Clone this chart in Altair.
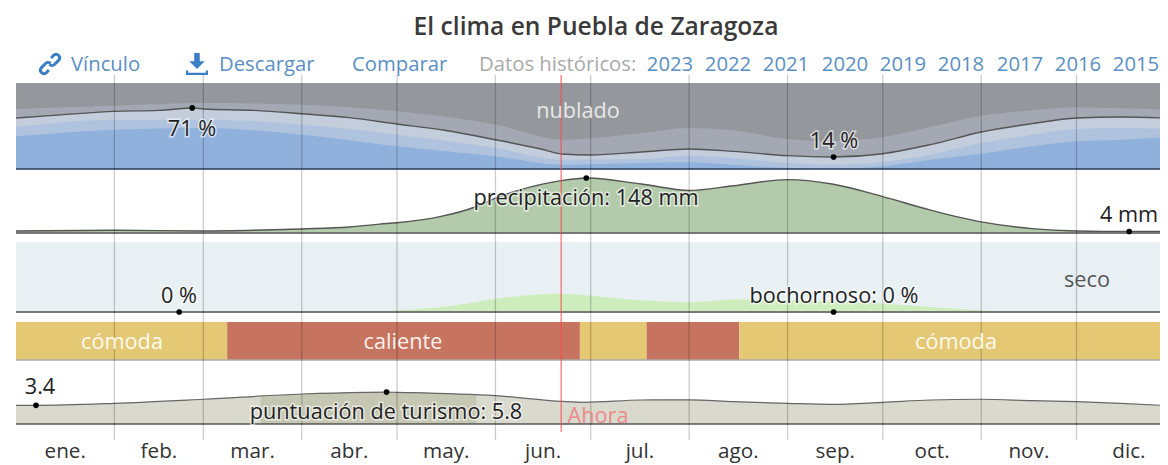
import altair as alt
import pandas as pd

FONT = "Open Sans"
ANN = 21.7
HDR = 20.3
months = ["ene.", "feb.", "mar.", "abr.", "may.", "jun.", "jul.", "ago.", "sep.", "oct.", "nov.", "dic."]
month_mid = [15.5, 45, 74.5, 105, 135.5, 166, 196.5, 227.5, 258, 288.5, 319, 350.5]
month_edges = [31, 59, 90, 120, 151, 181, 212, 243, 273, 304, 334]
years = ["2023", "2022", "2021", "2020", "2019", "2018", "2017", "2016", "2015"]
today = [171.7]

cloud_days = [0, 15, 31, 45, 56, 59, 75, 90, 105, 120, 135, 151, 165, 172, 181, 197, 212, 226, 243, 257, 273, 288, 304, 320, 334, 348, 363]
cloud_line = [59.3, 63.2, 67, 68.2, 71, 69.8, 68.2, 64.3, 59.7, 52.3, 45, 34, 23.6, 17.4, 16.3, 19.8, 23.3, 20.5, 15.5, 14, 17.8, 28.3, 43, 52.7, 59.3, 60.5, 59]
band_days = [0, 31, 59, 90, 120, 151, 172, 197, 212, 226, 243, 257, 273, 288, 304, 320, 334, 348, 363]
cloud_upper = [69.8, 73.6, 76.7, 74.8, 67.1, 51.6, 34.1, 41.9, 47.7, 45, 34.9, 32.2, 37.2, 48.8, 62, 68.2, 71.7, 70.5, 69]
cloud_light = [48.8, 57.4, 57.4, 51.6, 39.9, 24.4, 10.9, 11.6, 15.5, 12.8, 7, 5, 8.1, 16.7, 30.2, 39.9, 46.5, 47.7, 46.9]
cloud_clear = [38, 45.7, 47.7, 39.9, 26.4, 14.7, 5, 7, 7.8, 5, 1.2, 0.4, 3.1, 10.9, 17.8, 26.4, 32.2, 34.1, 37.2]

rain_days = [0, 31, 59, 75, 90, 105, 114.6, 120, 133.5, 144.6, 151, 158.7, 171.7, 180, 197, 212, 226, 243, 257, 273, 288, 304, 320, 334, 350, 363]
rain_mm = [5.4, 7.3, 5.4, 7.3, 10.9, 16, 24, 27.7, 44, 70, 94, 116, 141, 148, 131.7, 114.4, 127.1, 143.5, 131.7, 98, 61.7, 30, 11.8, 5.4, 4, 4.5]

muggy_days = [112, 120, 137, 151, 172, 179, 197, 212, 226, 243, 257, 273, 288, 304, 312]
muggy_pct = [0, 2.4, 8.6, 19, 26, 24, 16.7, 14, 18, 17, 15, 12, 7, 2.4, 0]

temp_start = [0, 66.5, 177.6, 198.6, 227.8]
temp_end = [66.5, 177.6, 198.6, 227.8, 365]
temp_kind = ["cómoda", "caliente", "cómoda", "caliente", "cómoda"]

tour_days = [0, 6.3, 31, 59, 90, 110, 116.7, 120, 151, 172, 179, 197, 212, 226, 243, 257, 273, 288, 304, 320, 334, 348, 363]
tour_score = [3.4, 3.4, 3.76, 4.5, 5.45, 5.76, 5.8, 5.76, 5.15, 4.1, 3.94, 4.36, 4.4, 4.06, 3.76, 3.58, 3.94, 4.36, 4.5, 4.24, 4.06, 3.76, 3.33]
tour_best_days = [77, 90, 110, 116.7, 120, 145]
tour_best = [5.1, 5.45, 5.76, 5.8, 5.76, 5.3]

x_scale = alt.Scale(domain=[-2.52, 360.3], range=[0, 1152], nice=False, zero=False)
X = alt.X("d:Q", scale=x_scale, axis=None)
X2 = alt.X2("e:Q")


def Y(domain, px):
    return alt.Y("v:Q", scale=alt.Scale(domain=domain, range=[px[0] - 8, px[1] - 8], nice=False, zero=False), axis=None)


CLOUD = Y([0, 100], (169, 83))
RAIN = Y([0, 148], (233, 178))
MUGGY = Y([0, 100], (312, 242))
TOUR = Y([0, 10], (424, 369))


def area(days, vals, yenc, color):
    df = pd.DataFrame({"d": days, "v": vals, "b": [0] * len(days)})
    return alt.Chart(df).mark_area(color=color, interpolate="monotone", clip=True, opacity=1).encode(x=X, y=yenc, y2=alt.Y2("b:Q"))


def line(days, vals, yenc, color="#555555", w=1.4):
    df = pd.DataFrame({"d": days, "v": vals})
    return alt.Chart(df).mark_line(color=color, strokeWidth=w, interpolate="monotone", clip=True).encode(x=X, y=yenc)


def base(yenc, color, w):
    df = pd.DataFrame({"d": [0], "e": [365], "v": [0]})
    return alt.Chart(df).mark_rule(color=color, strokeWidth=w, clip=True).encode(x=X, x2=X2, y=yenc)


def dot(d, v, yenc):
    df = pd.DataFrame({"d": [d], "v": [v]})
    return alt.Chart(df).mark_point(filled=True, color="#000000", size=32, opacity=1).encode(x=X, y=yenc)


def text(t, px, py, size=ANN, color="#333333", align="center", weight=400, halo=False, opacity=1):
    df = pd.DataFrame({"t": [t]})
    enc = dict(x=alt.value(px - 8), y=alt.value(py - 7), text="t:N")
    out = []
    if halo:
        out.append(alt.Chart(df).mark_text(font=FONT, fontSize=size, align=align, baseline="middle", fontWeight=weight,
                                           color="#ffffff", stroke="#ffffff", strokeWidth=3, opacity=0.6).encode(**enc))
    out.append(alt.Chart(df).mark_text(font=FONT, fontSize=size, align=align, baseline="middle", fontWeight=weight,
                                       color=color, opacity=opacity).encode(**enc))
    return out


layers = []
# cloud panel
bg = pd.DataFrame({"d": [0], "e": [365], "v": [100], "b": [0]})
layers.append(alt.Chart(bg).mark_rect(color="#94979c", clip=True).encode(x=X, x2=X2, y=CLOUD, y2=alt.Y2("b:Q")))
layers.append(area(band_days, cloud_upper, CLOUD, "#a4a8b2"))
layers.append(area(cloud_days, cloud_line, CLOUD, "#c3cddc"))
layers.append(area(band_days, cloud_light, CLOUD, "#afc3de"))
layers.append(area(band_days, cloud_clear, CLOUD, "#90b1dc"))
layers.append(line(cloud_days, cloud_line, CLOUD))
layers.append(base(CLOUD, "#2b3b5c", 1.5))
# rain panel
layers.append(area(rain_days, rain_mm, RAIN, "#b3cbaa"))
layers.append(line(rain_days, rain_mm, RAIN))
layers.append(base(RAIN, "#777777", 2))
# muggy panel
bg2 = pd.DataFrame({"d": [0], "e": [365], "v": [100], "b": [0]})
layers.append(alt.Chart(bg2).mark_rect(color="#e8f0f4", clip=True).encode(x=X, x2=X2, y=MUGGY, y2=alt.Y2("b:Q")))
layers.append(area(muggy_days, muggy_pct, MUGGY, "#cdedbd"))
layers.append(base(MUGGY, "#777777", 2))
# temperature bands
temp_df = pd.DataFrame({"d": temp_start, "e": temp_end, "k": temp_kind})
layers.append(alt.Chart(temp_df).mark_rect(clip=True).encode(
    x=X, x2=X2, y=alt.value(314), y2=alt.value(352),
    color=alt.Color("k:N", scale=alt.Scale(domain=["cómoda", "caliente"], range=["#e5c874", "#c6745f"]), legend=None)))
layers.append(alt.Chart(pd.DataFrame({"d": [0], "e": [365]})).mark_rule(color="#aaaaaa", strokeWidth=1.5, clip=True).encode(x=X, x2=X2, y=alt.value(352)))
# tourism panel
layers.append(area(tour_days, tour_score, TOUR, "#d9d9ce"))
layers.append(area(tour_best_days, tour_best, TOUR, "#c5c7b3"))
layers.append(line(tour_days, tour_score, TOUR, "#666666", 1.2))
layers.append(base(TOUR, "#555555", 1.5))
# month grid and month labels
layers.append(alt.Chart(pd.DataFrame({"d": month_edges})).mark_rule(color="#000000", opacity=0.2, strokeWidth=1.3).encode(
    x=X, y=alt.value(67), y2=alt.value(432)))
layers.append(alt.Chart(pd.DataFrame({"d": month_mid, "m": months})).mark_text(
    font=FONT, fontSize=ANN - 1, color="#333333", baseline="middle", align="center").encode(
    x=X, y=alt.value(444), text="m:N"))
layers.append(alt.Chart(pd.DataFrame({"d": today})).mark_rule(color="#f4494e", opacity=0.75, strokeWidth=1.3).encode(
    x=X, y=alt.value(67), y2=alt.value(424)))
# dots
layers += [dot(55.5, 71, CLOUD), dot(257.5, 14, CLOUD), dot(179.6, 148, RAIN), dot(350.6, 4, RAIN),
           dot(51.4, 0, MUGGY), dot(257.5, 0, MUGGY), dot(6.3, 3.4, TOUR), dot(116.7, 5.8, TOUR)]
# header
layers += text("El clima en Puebla de Zaragoza", 596, 27, size=24.6, weight=600, color="#3a3a3a")
LINK = "#5b8fc4"
layers += text("Vínculo", 71, 64, size=HDR, color=LINK, align="left")
layers += text("Descargar", 219, 64, size=HDR, color=LINK, align="left")
layers += text("Comparar", 352, 64, size=HDR, color=LINK, align="left")
layers += text("Datos históricos:", 479, 64, size=HDR, color="#aaaaaa", align="left")
for y_lab, px in zip(years, [670, 728, 786, 845, 903, 961, 1020, 1078, 1136]):
    layers += text(y_lab, px, 64, size=HDR, color=LINK)
icon_df = pd.DataFrame({"t": ["a"]})
layers.append(alt.Chart(icon_df).mark_point(
    shape="M0.1,-0.55 L0.35,-0.8 A0.32,0.32 0 0 1 0.8,-0.35 L0.4,0.05 A0.32,0.32 0 0 1 -0.05,0.05 M-0.1,0.55 L-0.35,0.8 A0.32,0.32 0 0 1 -0.8,0.35 L-0.4,-0.05 A0.32,0.32 0 0 1 0.05,-0.05",
    size=484, filled=False, stroke="#3a7fc4", strokeWidth=3, opacity=1).encode(x=alt.value(42), y=alt.value(56)))
layers.append(alt.Chart(icon_df).mark_point(
    shape="M-0.25,-1 H0.25 V-0.25 H0.7 L0,0.45 L-0.7,-0.25 H-0.25 Z M-1,0.6 H-0.8 V0.8 H0.8 V0.6 H1 V1 H-1 Z",
    size=484, filled=True, color="#3a7fc4", opacity=1).encode(x=alt.value(189), y=alt.value(56)))
# annotations
layers += text("nublado", 578, 110, color="#e8e8e8")
layers += text("71 %", 192, 128, halo=True, color="#222222")
layers += text("14 %", 834, 140, halo=True, color="#222222")
layers += text("precipitación: 148 mm", 586, 197, halo=True, color="#222222")
layers += text("4 mm", 1129, 214, halo=True, color="#222222")
layers += text("seco", 1087, 279, color="#555555")
layers += text("0 %", 179, 295, halo=True, color="#222222")
layers += text("bochornoso: 0 %", 834, 295, halo=True, color="#222222")
layers += text("cómoda", 122, 341, color="#fffbee")
layers += text("caliente", 403, 341, color="#fff1ec")
layers += text("cómoda", 956, 341, color="#fffbee")
layers += text("3.4", 40, 386, halo=True, color="#222222")
layers += text("puntuación de turismo: 5.8", 386, 411, halo=True, color="#222222")
layers += text("Ahora", 598, 415, color="#ee8a8a")

chart = alt.layer(*layers).resolve_scale(y="independent", color="independent").properties(
    width=1152, height=432,
    padding={"left": 0, "top": 0, "right": 0, "bottom": 25},
    autosize=alt.AutoSizeParams(type="none"),
    background="#ffffff",
).configure_view(stroke=None)

chart.save("out.html", embed_options={"renderer": "svg", "actions": False})
